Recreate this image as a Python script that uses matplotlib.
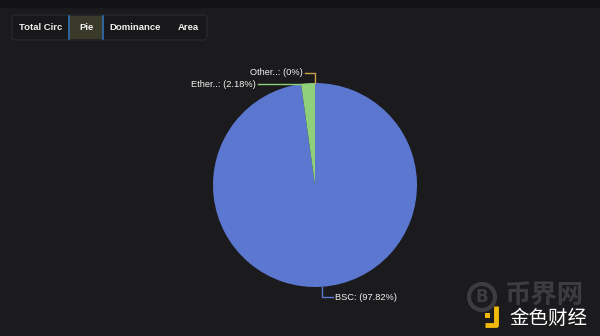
import numpy as np
import matplotlib.pyplot as plt
from matplotlib.patches import FancyBboxPatch, Rectangle

# data
labels = ["BSC", "Ether..", "Other.."]
shares = [97.82, 2.18, 0.0]
colors = ["#5b77d0", "#8fd07a", "#c9a24a"]
tabs = ["Total Circ", "Pie", "Dominance", "Area"]
active_tab = "Pie"

W, H = 600, 336
fig = plt.figure(figsize=(W / 100, H / 100), dpi=100)
fig.patch.set_facecolor("#1b1b1d")

bg = fig.add_axes([0, 0, 1, 1])
bg.set_xlim(0, W)
bg.set_ylim(H, 0)
bg.axis("off")
bg.add_patch(Rectangle((0, 0), W, 7, color="#121214", zorder=0))

# tab bar
bg.add_patch(FancyBboxPatch((12, 15), 195, 25, boxstyle="round,pad=0,rounding_size=3",
                            fc="#18181a", ec="#2c2c30", lw=0.8))
tab_x = [41, 86, 135, 188]
for name, x in zip(tabs, tab_x):
    if name == active_tab:
        bg.add_patch(Rectangle((69, 16), 34, 23, fc="#3a3a2b", ec="none"))
        bg.plot([69, 69], [16, 39], color="#2f6fb8", lw=1.2)
        bg.plot([103, 103], [16, 39], color="#2f6fb8", lw=1.2)
    bg.text(x, 28, name, color="#f0f0f0", fontsize=6.8, fontweight="bold",
            family="Liberation Sans", ha="center", va="center")

# pie
cx, cy, r = 315, 185, 102
ax = fig.add_axes([(cx - r) / W, 1 - (cy + r) / H, 2 * r / W, 2 * r / H])
ax.set_facecolor("none")
wedges, _ = ax.pie(shares, colors=colors, startangle=90, counterclock=False,
                   radius=1, wedgeprops=dict(linewidth=0))
ax.set_xlim(-1, 1)
ax.set_ylim(-1, 1)
ax.set_aspect("equal")
ax.axis("off")

# leader lines + labels
for w, lab, val, col in zip(wedges, labels, shares, colors):
    mid = np.radians((w.theta1 + w.theta2) / 2)
    x0, y0 = np.cos(mid), np.sin(mid)
    text = f"{lab}: ({val:g}%)"
    if lab == "BSC":
        pts = [(x0, y0), (x0, -1.1), (0.18, -1.1)]
        tx, ha, ty = 0.2, "left", -1.1
    elif lab.startswith("Ether"):
        pts = [(x0, 0.99), (-0.56, 0.99)]
        tx, ha, ty = -0.58, "right", 0.99
    else:
        pts = [(x0, 1.0), (x0, 1.1), (-0.1, 1.1)]
        tx, ha, ty = -0.12, "right", 1.1
    xs, ys = zip(*pts)
    ax.plot(xs, ys, color=col, lw=1, clip_on=False)
    ax.text(tx, ty, text, color="#f2f2f2", fontsize=6.7, family="Liberation Sans",
            ha=ha, va="center", clip_on=False)

# watermark
bg.text(544, 296, "币界网", color="#3d3d3f", fontsize=19, fontweight="bold",
        family="Noto Sans CJK SC", ha="center", va="center")
bg.add_patch(plt.Circle((482, 297), 13, fill=False, ec="#3d3d3f", lw=3))
bg.text(482, 297, "B", color="#3d3d3f", fontsize=12, fontweight="bold",
        ha="center", va="center")
bg.plot([485, 496, 496], [325, 325, 306], color="#f0b90b", lw=3.5,
        solid_capstyle="butt")
bg.add_patch(Rectangle((485, 313), 5, 5, fc="#f0b90b", ec="none"))
bg.text(548, 318, "金色财经", color="#ffffff", fontsize=14,
        family="Noto Sans CJK SC", ha="center", va="center")

fig.savefig("out.png", dpi=100, facecolor=fig.get_facecolor())
